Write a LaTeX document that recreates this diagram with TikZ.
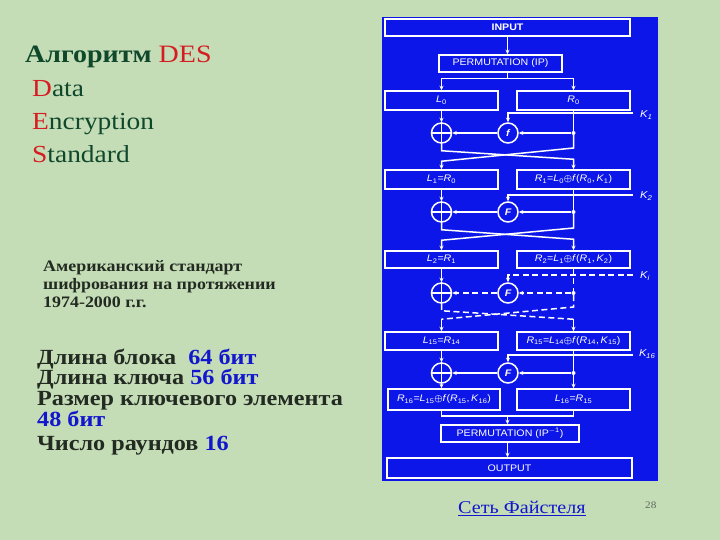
\documentclass[tikz,border=0pt]{standalone}
\usepackage{amsmath}
\usepackage{fontspec}
\setmainfont{Liberation Serif}[FakeStretch=1.12]
\newfontfamily\dsans{Liberation Sans}[FakeStretch=1.12]
\usetikzlibrary{arrows.meta,calc}
\definecolor{bgg}{RGB}{196,221,182}
\definecolor{pblue}{RGB}{12,22,232}
\definecolor{dgreen}{RGB}{16,72,44}
\definecolor{dred}{RGB}{214,28,32}
\definecolor{dtext}{RGB}{34,42,34}
\definecolor{nblue}{RGB}{18,22,205}
\definecolor{pgnum}{RGB}{95,105,95}
\tikzset{
  wl/.style={draw=white, line width=1.5pt},
  box/.style={wl, inner sep=0pt, text=white, font=\dsans\fontsize{9.5}{11}\selectfont},
  circ/.style={wl, circle, minimum size=20pt, inner sep=0pt, text=white, font=\dsans\bfseries\itshape\fontsize{9.5}{10}\selectfont},
  arr/.style={wl, -{Stealth[length=4.5pt,width=4pt]}},
  dsh/.style={dash pattern=on 6pt off 3.5pt},
  dot/.style={circle, fill=white, inner sep=0pt, minimum size=4pt},
  klab/.style={text=white, font=\dsans\itshape\fontsize{10}{11}\selectfont, anchor=west, inner sep=0pt},
  lt/.style={anchor=base west, inner sep=0pt}
}
\newcommand{\isub}[2]{\textit{#1}\textsubscript{#2}}
\newcommand{\xo}{$\boldsymbol{\oplus}$}
\begin{document}
\begin{tikzpicture}[x=1pt,y=-1pt]
\useasboundingbox (0,0) rectangle (720,540);
\fill[bgg] (0,0) rectangle (720,540);
% blue panel
\fill[pblue] (382,17) rectangle (658,481);
% boxes
\node[box, minimum width=245pt, minimum height=17pt, font=\dsans\bfseries\fontsize{9.5}{11}\selectfont] (IN) at (507.5,27.5) {INPUT};
\node[box, minimum width=123pt, minimum height=17pt] (P1) at (500.5,63.5) {PERMUTATION (IP)};
\node[box, minimum width=113pt, minimum height=19pt] (L0) at (441.5,100.5) {\isub{L}{0}};
\node[box, minimum width=113pt, minimum height=19pt] (R0) at (573.5,100.5) {\isub{R}{0}};
\node[box, minimum width=113pt, minimum height=19pt] (L1) at (441.5,179.5) {\isub{L}{1}=\isub{R}{0}};
\node[box, minimum width=113pt, minimum height=19pt] (R1) at (573.5,179.5) {\isub{R}{1}=\isub{L}{0}\xo\textit{f}(\isub{R}{0},\,\isub{K}{1})};
\node[box, minimum width=113pt, minimum height=17pt] (L2) at (441.5,259.5) {\isub{L}{2}=\isub{R}{1}};
\node[box, minimum width=113pt, minimum height=17pt] (R2) at (573.5,259.5) {\isub{R}{2}=\isub{L}{1}\xo\textit{f}(\isub{R}{1},\,\isub{K}{2})};
\node[box, minimum width=113pt, minimum height=18pt] (L15) at (441.5,341) {\isub{L}{15}=\isub{R}{14}};
\node[box, minimum width=113pt, minimum height=18pt] (R15) at (573.5,341) {\isub{R}{15}=\isub{L}{14}\xo\textit{f}(\isub{R}{14},\,\isub{K}{15})};
\node[box, minimum width=112pt, minimum height=21pt] (R16) at (444,399.5) {\isub{R}{16}=\isub{L}{15}\xo\textit{f}(\isub{R}{15},\,\isub{K}{16})};
\node[box, minimum width=113pt, minimum height=21pt] (L16) at (573.5,399.5) {\isub{L}{16}=\isub{R}{15}};
\node[box, minimum width=138pt, minimum height=17pt] (P2) at (510,433.5) {PERMUTATION (IP\textsuperscript{$-$1})};
\node[box, minimum width=245pt, minimum height=20pt] (OUT) at (509.5,468) {OUTPUT};
% circles
\node[circ] (X1) at (441.5,133) {};
\node[circ] (F1) at (508,133) {f};
\node[circ] (X2) at (441.5,212) {};
\node[circ] (F2) at (508,212) {F};
\node[circ] (X3) at (441.5,293) {};
\node[circ] (F3) at (508,293) {F};
\node[circ] (X4) at (441.5,373) {};
\node[circ] (F4) at (508,373) {F};
\foreach \x in {X1,X2,X3,X4}{
  \draw[wl] (\x.north) -- (\x.south) (\x.west) -- (\x.east);
}
% dots
\node[dot] (D1) at (573.5,133) {};
\node[dot] (D2) at (573.5,212) {};
\node[dot] (D3) at (573.5,293) {};
\node[dot] (D4) at (573.5,373) {};
% key coordinates and labels
\coordinate (K1) at (633,113);
\coordinate (K2) at (633,195);
\coordinate (K3) at (633,275);
\coordinate (K4) at (633,355);
\node[klab] (K1l) at (640,115) {\isub{K}{1}};
\node[klab] (K2l) at (640,196) {\isub{K}{2}};
\node[klab] (K3l) at (640,276) {\isub{K}{i}};
\node[klab] (K4l) at (639,354) {\isub{K}{\kern-0.5pt16}};
% top
\draw[arr] (IN.south) -- (IN.south |- P1.north);
\draw[wl] (IN.south |- P1.south) -- ++(0,6) coordinate (sp);
\draw[arr] (sp) -| (L0.north);
\draw[arr] (sp) -| (R0.north);
% round 1
\draw[arr] (L0.south) -- (X1.north);
\draw[arr] (K1) -| (F1.north);
\draw[wl] (R0.south) -- (D1);
\draw[arr] (D1) -- (F1.east);
\draw[arr] (F1.west) -- (X1.east);
\draw[arr] (X1.south) -- ++(0,7) -- ($(R1.north)+(0,-10)$) -- (R1.north);
\draw[arr] (D1) -- ++(0,15) -- ($(L1.north)+(0,-8)$) -- (L1.north);
% round 2
\draw[arr] (L1.south) -- (X2.north);
\draw[arr] (K2) -| (F2.north);
\draw[wl] (R1.south) -- (D2);
\draw[arr] (D2) -- (F2.east);
\draw[arr] (F2.west) -- (X2.east);
\draw[arr] (X2.south) -- ++(0,7) -- ($(R2.north)+(0,-11)$) -- (R2.north);
\draw[arr] (D2) -- ++(0,16) -- ($(L2.north)+(0,-10)$) -- (L2.north);
% round i (dashed)
\draw[arr] (L2.south) -- (X3.north);
\draw[arr,dsh] (K3) -| (F3.north);
\draw[wl,dsh] (R2.south) -- (D3);
\draw[arr,dsh] (D3) -- (F3.east);
\draw[arr,dsh] (F3.west) -- (X3.east);
\draw[wl,dsh] (X3.south) -- ++(0,7) coordinate (c3a) -- ($(R15.north)+(0,-12)$) coordinate (c3b);
\draw[arr] (c3b) -- (R15.north);
\draw[wl,dsh] (D3) -- ++(0,14) coordinate (c3c) -- ($(L15.north)+(0,-12)$) coordinate (c3d);
\draw[arr] (c3d) -- (L15.north);
% round 16
\draw[arr] (L15.south) -- (X4.north);
\draw[arr] (K4) -| (F4.north);
\draw[wl] (R15.south) -- (D4);
\draw[arr] (D4) -- (F4.east);
\draw[arr] (F4.west) -- (X4.east);
\draw[arr] (X4.south) -- (X4.south |- R16.north);
\draw[arr] (D4) -- (L16.north);
% bottom
\draw[wl] (X4.south |- R16.south) -- ++(0,5) coordinate (m1) -- (m1 -| L16.south) -- (L16.south);
\draw[arr] (m1 -| IN.south) -- (IN.south |- P2.north);
\draw[arr] (IN.south |- P2.south) -- (IN.south |- OUT.north);
% left texts
\node[lt] (t1) at (25,63) {\fontsize{25}{28}\selectfont\bfseries\color{dgreen}Алгоритм \mdseries\color{dred}DES};
\node[lt] (t2) at (32,97) {\fontsize{24.5}{28}\selectfont\color{dred}D\color{dgreen}ata};
\node[lt] (t3) at (32,130) {\fontsize{24.5}{28}\selectfont\color{dred}E\color{dgreen}ncryption};
\node[lt] (t4) at (32,162.5) {\fontsize{24.5}{28}\selectfont\color{dred}S\color{dgreen}tandard};
\node[lt] (s1) at (43,271) {\fontsize{16}{18}\selectfont\bfseries\color{dtext}Американский стандарт};
\node[lt] (s2) at (43,289) {\fontsize{16}{18}\selectfont\bfseries\color{dtext}шифрования на протяжении};
\node[lt] (s3) at (43,307) {\fontsize{16}{18}\selectfont\bfseries\color{dtext}1974-2000 г.г.};
\node[lt] (b1) at (37,364) {\fontsize{21.6}{22}\selectfont\bfseries\color{dtext}Длина блока\ \ \color{nblue}64 бит};
\node[lt] (b2) at (37,384) {\fontsize{21.6}{22}\selectfont\bfseries\color{dtext}Длина ключа \color{nblue}56 бит};
\node[lt] (b3) at (37,405) {\fontsize{21.6}{22}\selectfont\bfseries\color{dtext}Размер ключевого элемента};
\node[lt] (b4) at (37,426) {\fontsize{21.6}{22}\selectfont\bfseries\color{nblue}48 бит};
\node[lt] (b5) at (37,450) {\fontsize{21.6}{22}\selectfont\bfseries\color{dtext}Число раундов \color{nblue}16};
\node[lt] (lnk) at (458,513) {\fontsize{18}{20}\selectfont\color{nblue}Сеть Файстеля};
\draw[nblue, line width=1pt] ($(lnk.base west)+(0,2.2)$) -- ($(lnk.base east)+(0,2.2)$);
\node[lt] (pg) at (645,508) {\fontsize{10}{12}\selectfont\color{pgnum}28};
\end{tikzpicture}
\end{document}
